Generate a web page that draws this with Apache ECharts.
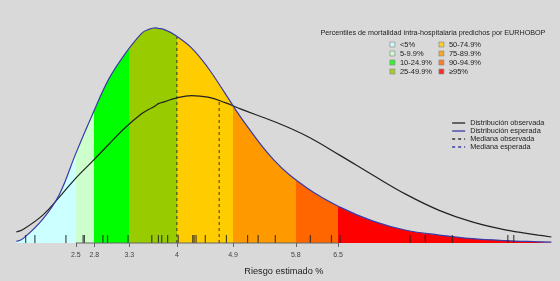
<!DOCTYPE html>
<html>
<head>
<meta charset="utf-8">
<script src="https://cdn.jsdelivr.net/npm/echarts@6/dist/echarts.min.js"></script>
<style>
  html, body { margin: 0; padding: 0; background: #d9d9d9; }
  #chart { width: 560px; height: 281px; }
</style>
</head>
<body>
<div id="chart"></div>
<script>
// riesgo estimado (%) donde se leen las curvas
const riskX = [1.6, 1.7, 2.0, 2.25, 2.5, 2.75, 3.0, 3.25, 3.5, 3.6, 3.7, 3.75, 3.85, 4.0,
  4.25, 4.5, 4.75, 5.0, 5.5, 6.0, 6.5, 7.0, 7.5, 8.0, 8.5, 9.0, 9.5, 9.7]
// densidad esperada (EURHOBOP)
const expectedDens = [0.004, 0.011, 0.060, 0.122, 0.225, 0.322, 0.412, 0.476, 0.527, 0.536,
  0.540, 0.539, 0.535, 0.522, 0.490, 0.440, 0.378, 0.315, 0.208, 0.138, 0.090, 0.055,
  0.032, 0.020, 0.011, 0.006, 0.003, 0.002]
// densidad observada
const observedDens = [0.028, 0.034, 0.070, 0.115, 0.163, 0.205, 0.248, 0.290, 0.325, 0.335,
  0.344, 0.350, 0.355, 0.363, 0.370, 0.366, 0.353, 0.336, 0.305, 0.268, 0.220, 0.170,
  0.122, 0.082, 0.053, 0.033, 0.020, 0.015]
// cortes de percentiles (eje x)
const breaks = [2.50, 2.78, 3.31, 4.03, 4.88, 5.83, 6.47]
const bandNames = ['<5%', '5-9.9%', '10-24.9%', '25-49.9%', '50-74.9%', '75-89.9%', '90-94.9%', '≥95%']
const bandColors = ['#ccffff', '#ccffcc', '#00ff00', '#99cc00', '#ffcc00', '#ff9900', '#ff6600', '#ff0000']
// medianas
const medianExpected = [4.03, 0.518]
const medianObserved = [4.67, 0.357]
// pacientes (rug)
const rugX = [1.74, 1.88, 2.35, 2.61, 2.63, 2.91, 2.98, 3.29, 3.65, 3.75, 3.80, 3.89, 4.05,
  4.27, 4.29, 4.32, 4.46, 4.78, 5.10, 5.26, 5.52, 6.05, 6.37, 6.50, 7.56, 7.79, 8.20, 9.04, 9.13]

const FONT = 'Liberation Sans, Arial, sans-serif'
const BLUE = '#3a3aa8'
const BLACK = '#222222'

const zip = (xs, ys) => xs.map((x, i) => [x, ys[i]])

const pieces = bandColors.map((c, i) => {
  const p = { color: c }
  if (i > 0) p.gte = breaks[i - 1]
  if (i < breaks.length) p.lt = breaks[i]
  return p
})

const chart = echarts.init(document.getElementById('chart'))

const bandLegend = (names, left) => ({
  data: names,
  orient: 'vertical',
  left: left,
  top: 40,
  padding: 0,
  itemGap: 0,
  itemWidth: 5,
  itemHeight: 5,
  icon: 'rect',
  selectedMode: false,
  itemStyle: { borderColor: '#888', borderWidth: 0.8 },
  textStyle: { fontFamily: FONT, fontSize: 7.5, color: '#222', lineHeight: 9 }
})

const series = [
  {
    // relleno por bandas de percentil
    type: 'line',
    data: zip(riskX, expectedDens),
    smooth: 0.4,
    showSymbol: false,
    silent: true,
    lineStyle: { width: 0 },
    areaStyle: { opacity: 1 },
    z: 1
  },
  {
    name: 'Distribución observada',
    type: 'line',
    data: zip(riskX, observedDens),
    smooth: 0.4,
    showSymbol: false,
    symbol: 'none',
    color: BLACK,
    lineStyle: { width: 1.2, color: BLACK },
    z: 5
  },
  {
    name: 'Distribución esperada',
    type: 'line',
    data: zip(riskX, expectedDens),
    smooth: 0.4,
    showSymbol: false,
    symbol: 'none',
    color: BLUE,
    lineStyle: { width: 1.2, color: BLUE },
    z: 5
  },
  {
    name: 'Mediana observada',
    type: 'line',
    data: [[medianObserved[0], 0], medianObserved],
    symbol: 'none',
    color: BLACK,
    lineStyle: { width: 1, color: '#333', type: [3, 3] },
    z: 4
  },
  {
    name: 'Mediana esperada',
    type: 'line',
    data: [[medianExpected[0], 0], medianExpected],
    symbol: 'none',
    color: BLUE,
    lineStyle: { width: 1, color: '#333', type: [3, 3] },
    z: 4
  },
  {
    // rug de pacientes
    type: 'scatter',
    data: rugX.map(v => [v, 0]),
    symbol: 'rect',
    symbolSize: [1.2, 8],
    symbolOffset: [0, -4],
    itemStyle: { color: BLACK },
    silent: true,
    clip: false,
    z: 6
  },
  {
    // línea del eje entre el primer y último corte
    type: 'line',
    data: [[breaks[0], 0], [breaks[breaks.length - 1], 0]],
    symbol: 'none',
    lineStyle: { width: 1, color: '#666' },
    silent: true,
    clip: false,
    z: 7
  }
]

// entradas de la leyenda de percentiles
bandNames.forEach((n, i) => {
  series.push({ name: n, type: 'scatter', data: [], color: bandColors[i] })
})

chart.setOption({
  backgroundColor: '#d9d9d9',
  animation: false,
  title: {
    text: 'Percentiles de mortalidad intra-hospitalaria predichos por EURHOBOP',
    left: 320.5,
    top: 30,
    padding: 0,
    textStyle: { fontFamily: FONT, fontSize: 7.2, fontWeight: 'normal', color: '#222' }
  },
  legend: [
    bandLegend(bandNames.slice(0, 4), 389.5),
    bandLegend(bandNames.slice(4), 438.5),
    {
      data: [
        'Distribución observada',
        'Distribución esperada',
        'Mediana observada',
        { name: 'Mediana esperada', lineStyle: { color: BLUE } }
      ],
      orient: 'vertical',
      left: 451.5,
      top: 119,
      padding: 0,
      itemGap: 0,
      itemWidth: 13,
      itemHeight: 8,
      selectedMode: false,
      itemStyle: { opacity: 0 },
      lineStyle: { width: 1.3 },
      textStyle: { fontFamily: FONT, fontSize: 7.3, color: '#222', lineHeight: 8 }
    }
  ],
  visualMap: {
    type: 'piecewise',
    show: false,
    dimension: 0,
    seriesIndex: 0,
    pieces: pieces
  },
  grid: { left: 16.4, right: 8.6, top: 4, bottom: 37 },
  xAxis: {
    type: 'value',
    min: 1.6,
    max: 9.7,
    name: 'Riesgo estimado %',
    nameLocation: 'middle',
    nameGap: 24,
    nameTextStyle: { fontFamily: FONT, fontSize: 9.2, color: '#222' },
    axisLine: { show: false },
    splitLine: { show: false },
    axisTick: { show: true, customValues: breaks, length: 4, lineStyle: { color: '#666' } },
    axisLabel: {
      customValues: breaks,
      margin: 9,
      fontFamily: FONT,
      fontSize: 7,
      color: '#444',
      formatter: v => String(parseFloat(v.toFixed(1)))
    }
  },
  yAxis: {
    type: 'value',
    min: 0,
    max: 0.6,
    show: false
  },
  series: series
})
</script>
</body>
</html>
